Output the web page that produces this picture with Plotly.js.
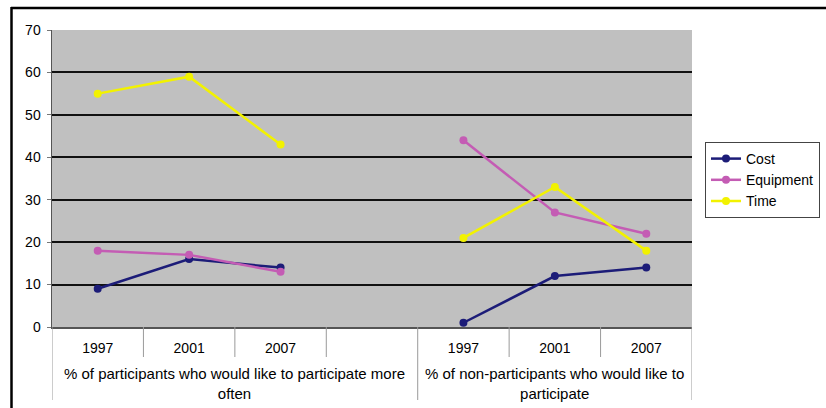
<!DOCTYPE html>
<html><head><meta charset="utf-8">
<script src="https://cdn.plot.ly/plotly-3.0.1.min.js"></script>
<style>html,body{margin:0;padding:0;background:#fff;}#chart{width:826px;height:408px;}</style>
</head><body><div id="chart"></div>
<script>
const categories = ['1997','2001','2007','','1997','2001','2007'];
const groupLabels = ['% of participants who would like to participate more<br>often', '% of non-participants who would like to<br>participate'];
const groupSpans = [[0,3],[4,6]];
const seriesNames = ['Cost','Equipment','Time'];
const cost = [9,16,14,null,1,12,14];
const equipment = [18,17,13,null,44,27,22];
const time = [55,59,43,null,21,33,18];

const colors = ['#1c1c78','#c45cb4','#f2f200'];
const W=826,H=408,L=52,R=692,T=30,B=327;
const px = x => (x-L)/(R-L);
const py = y => (B-y)/(B-T);
const xs = categories.map((_,i)=>i);
const font = {family:'Liberation Sans, Arial, sans-serif', size:14, color:'#000'};
const groupFont = {family:'Liberation Sans, Arial, sans-serif', size:15, color:'#000'};

const traces = [cost,equipment,time].map((v,k)=>({
  x: xs, y: v, name: seriesNames[k], type:'scatter', mode:'lines+markers',
  connectgaps:false,
  line:{color:colors[k], width:2.5},
  marker:{color:colors[k], size:8, symbol:'circle'}
}));

const shapes = [];
for (let i=0;i<=categories.length;i++){
  const xv = i-0.5;
  const isGroup = (i===0 || i===4 || i===7);
  shapes.push({type:'line', xref:'x', yref:'paper', x0:xv, x1:xv, y0:0, y1:py(isGroup?400:357), line:{color:'#9a9a9a', width:1}});
}
shapes.push({type:'line', xref:'paper', yref:'paper', x0:px(11), x1:px(826), y0:py(8), y1:py(8), line:{color:'#000', width:2.5}});
shapes.push({type:'line', xref:'paper', yref:'paper', x0:px(11.5), x1:px(11.5), y0:py(7), y1:py(408), line:{color:'#000', width:2.5}});

const annotations = groupLabels.map((t,g)=>({
  text:t, xref:'x', yref:'paper', x:(groupSpans[g][0]+groupSpans[g][1])/2, y:py(363), yanchor:'top', xanchor:'center',
  showarrow:false, font:groupFont, align:'center'
}));
annotations[0].x = (groupSpans[0][0]-0.5 + groupSpans[0][1]+0.5)/2;

const layout = {
  width:W, height:H,
  margin:{l:L, r:W-R, t:T, b:H-B, pad:0, autoexpand:false},
  paper_bgcolor:'#ffffff', plot_bgcolor:'#c0c0c0',
  font:font,
  showlegend:true,
  legend:{x:px(705), y:py(142), xanchor:'left', yanchor:'top', bgcolor:'#fff', bordercolor:'#444', borderwidth:1, font:font, tracegroupgap:0, entrywidth:88, entrywidthmode:'pixels'},
  xaxis:{range:[-0.5,6.5], tickvals:xs, ticktext:categories, showgrid:false, zeroline:false,
    showline:true, linecolor:'#555', linewidth:1.5, ticks:'', ticklabelstandoff:8, tickfont:font, fixedrange:true},
  yaxis:{range:[0,70], dtick:10, tick0:0, showgrid:true, gridcolor:'#111', gridwidth:2, zeroline:false,
    showline:true, linecolor:'#555', linewidth:1.5, ticks:'outside', ticklen:4, tickcolor:'#777', ticklabelstandoff:3, tickfont:font, fixedrange:true},
  shapes:shapes,
  annotations:annotations
};
Plotly.newPlot('chart', traces, layout, {displayModeBar:false, staticPlot:true});
</script></body></html>
